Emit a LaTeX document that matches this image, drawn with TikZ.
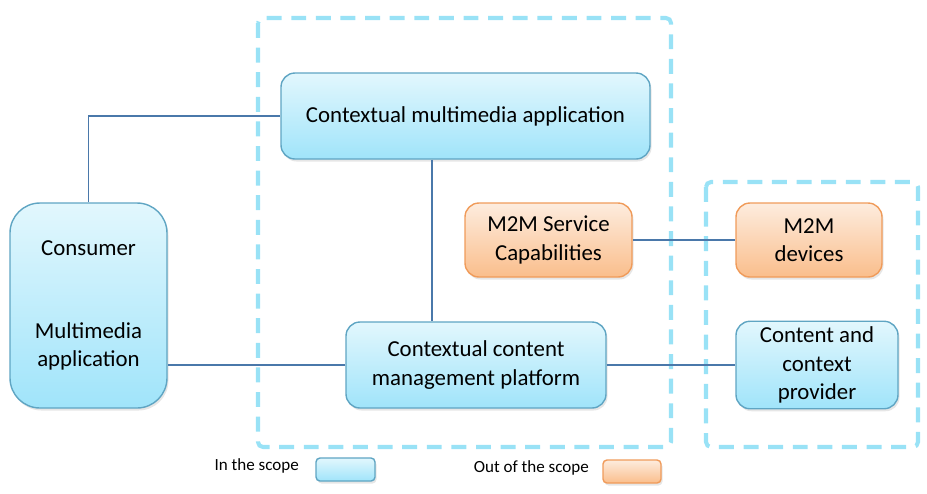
\documentclass[tikz,border=0pt]{standalone}
\usepackage{fontspec}
\setmainfont{Carlito}
\usetikzlibrary{shadows}

\definecolor{inTop}{RGB}{226,247,253}
\definecolor{inBot}{RGB}{160,228,250}
\definecolor{inDraw}{RGB}{95,165,195}
\definecolor{outTop}{RGB}{253,236,222}
\definecolor{outBot}{RGB}{250,190,140}
\definecolor{outDraw}{RGB}{240,155,90}
\definecolor{scopeDash}{RGB}{153,226,246}
\definecolor{linkCol}{RGB}{74,120,170}

\begin{document}
\begin{tikzpicture}[
    inbox/.style={draw=inDraw,line width=0.8pt,rounded corners=0.28cm,top color=inTop,bottom color=inBot,
        align=center,font=\fontsize{13}{16}\selectfont,
        drop shadow={opacity=0.2,shadow xshift=0.03cm,shadow yshift=-0.05cm}},
    outbox/.style={inbox,draw=outDraw,top color=outTop,bottom color=outBot},
    scope/.style={draw=scopeDash,line width=2.3pt,dash pattern=on 8.5pt off 5.5pt,rounded corners=0.1cm},
    link/.style={draw=linkCol,line width=0.6pt},
    legend/.style={font=\fontsize{9.7}{12}\selectfont,anchor=east}
]
     \useasboundingbox (0,0) rectangle (18.54,-9.86);

     % scope frames
     \draw[scope] (5.16,-0.36) rectangle (13.42,-8.94);
     \draw[scope] (14.12,-3.64) rectangle (18.36,-8.94);

     \node[inbox,minimum width=7.38cm,minimum height=1.72cm] (cma) at (9.31,-2.32) {Contextual multimedia application};
     \node[inbox,rounded corners=0.6cm,minimum width=3.14cm,minimum height=4.1cm] (consumer) at (1.77,-6.11)
          {Consumer\\[1.08cm]Multimedia\\application};
     \node[outbox,minimum width=3.34cm,minimum height=1.48cm] (m2msc) at (10.97,-4.8) {M2M Service\\Capabilities};
     \node[outbox,minimum width=2.92cm,minimum height=1.48cm] (m2md) at (16.18,-4.8) {M2M\\devices};
     \node[inbox,minimum width=5.2cm,minimum height=1.72cm] (ccmp) at (9.52,-7.3) {Contextual content\\management platform};
     \node[inbox,minimum width=3.24cm,minimum height=1.72cm] (ccp) at (16.34,-7.3) {Content and\\context\\provider};

     % links
     \draw[link] (consumer.north) |- (cma.west);
     \draw[link] (ccmp.west) -- (ccmp.west -| consumer.east);
     \draw[link] ([xshift=-0.67cm]cma.south) -- ([xshift=-0.67cm]cma.south |- ccmp.north);
     \draw[link] (m2msc.east) -- (m2md.west);
     \draw[link] (ccmp.east) -- (ccp.west);

     % legend
     \node[legend] (inlabel) at (6.1,-9.32) {In the scope};
     \node[inbox,rounded corners=0.08cm,minimum width=1.18cm,minimum height=0.46cm] (inkey) at (6.91,-9.39) {};
     \node[legend] (outlabel) at (11.9,-9.36) {Out of the scope};
     \node[outbox,rounded corners=0.08cm,minimum width=1.16cm,minimum height=0.46cm] (outkey) at (12.64,-9.43) {};
\end{tikzpicture}
\end{document}
